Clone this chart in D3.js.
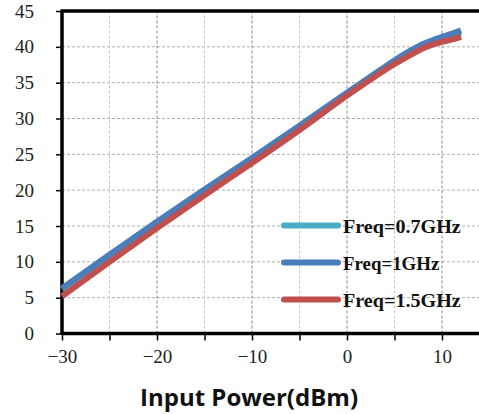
<!DOCTYPE html>
<html>
<head>
<meta charset="utf-8">
<script src="https://cdn.jsdelivr.net/npm/d3@7"></script>
<style>
	body { margin: 0; background: #fff; }
	svg { display: block; }
	.legendText { font-family: 'Liberation Serif', serif; font-weight: bold; font-size: 18px; fill: #111; }
	.axisTitle { font-family: 'Open Sans', sans-serif; font-weight: bold; font-size: 24px; fill: #111; }
</style>
</head>
<body>
<script>
// input power (dBm)
const inputPower = [-30, -25, -20, -15, -10, -5, 0, 3, 5, 7, 8, 9, 10, 11, 12];
// output power per frequency
const freq07 = [6.2, 10.9, 15.5, 20.0, 24.4, 28.9, 33.5, 36.2, 38.0, 39.6, 40.3, 40.8, 41.1, 41.5, 41.9];
const freq1 = [6.3, 11.0, 15.6, 20.1, 24.5, 29.0, 33.6, 36.3, 38.1, 39.7, 40.4, 40.9, 41.4, 41.8, 42.3];
const freq15 = [5.2, 10.0, 14.7, 19.3, 23.8, 28.4, 33.2, 35.9, 37.6, 39.1, 39.8, 40.3, 40.7, 41.0, 41.4];
const seriesNames = ['Freq=0.7GHz', 'Freq=1GHz', 'Freq=1.5GHz'];
const seriesColors = ['#4bacc6', '#4a7ebb', '#c0504d'];
const xTicks = [-30, -20, -10, 0, 10];
const xGrid = [-25, -20, -15, -10, -5, 0, 5, 10];
const yTicks = [0, 5, 10, 15, 20, 25, 30, 35, 40, 45];

const W = 479, H = 414;
const svg = d3.select('body').append('svg').attr('width', W).attr('height', H);

const x = d3.scaleLinear().domain([-30, 14]).range([62, 480]);
const y = d3.scaleLinear().domain([0, 45]).range([333.5, 11]);

// grid
svg.append('g').selectAll('line')
	.data(yTicks.filter(d => d > 0 && d < 45))
	.enter().append('line')
	.attr('x1', x(-30)).attr('x2', W)
	.attr('y1', d => y(d)).attr('y2', d => y(d))
	.style('stroke', '#b0b0b0').style('stroke-width', 1).style('stroke-dasharray', '3,2')

svg.append('g').selectAll('line')
	.data(xGrid)
	.enter().append('line')
	.attr('x1', d => x(d)).attr('x2', d => x(d))
	.attr('y1', y(0)).attr('y2', y(45))
	.style('stroke', d => d % 10 == 0 ? '#888' : '#c8c8c8')
	.style('stroke-width', 1).style('stroke-dasharray', '3,2')

// axes
let xAxis = svg.append('g')
	.attr('transform', `translate(0,${y(0)})`)
	.call(d3.axisBottom(x).tickValues(xGrid.concat([-30])).tickSize(7).tickPadding(9)
		.tickFormat(d => xTicks.includes(d) ? (d < 0 ? '\u2212' + Math.abs(d) : d) : ''))
xAxis.select('.domain').remove();

let yAxis = svg.append('g')
	.attr('transform', `translate(${x(-30)},0)`)
	.call(d3.axisLeft(y).tickValues(yTicks).tickSize(6).tickPadding(22))
yAxis.select('.domain').remove();

svg.selectAll('.tick line').style('stroke', '#000').style('stroke-width', 1.5);
svg.selectAll('.tick text')
	.style('font-family', "'Liberation Serif', 'DejaVu Serif', serif")
	.style('font-size', '19px')
	.style('fill', '#222')

// frame
svg.append('line').attr('x1', x(-30)).attr('x2', W).attr('y1', y(0)).attr('y2', y(0))
	.style('stroke', '#000').style('stroke-width', 3.5)
svg.append('line').attr('x1', x(-30) - 1.5).attr('x2', W).attr('y1', y(45)).attr('y2', y(45))
	.style('stroke', '#000').style('stroke-width', 3.5)
svg.append('line').attr('x1', x(-30)).attr('x2', x(-30)).attr('y1', y(45)).attr('y2', y(0) + 1.5)
	.style('stroke', '#000').style('stroke-width', 3.5)

// curves
const series = [freq07, freq1, freq15];
let line = d3.line()
	.x((d, i) => x(inputPower[i]))
	.y(d => y(d))
	.curve(d3.curveMonotoneX)

svg.append('g').selectAll('path')
	.data(series)
	.enter().append('path')
	.attr('d', line)
	.style('fill', 'none')
	.style('stroke', (d, i) => seriesColors[i])
	.style('stroke-width', 6)
	.style('stroke-linecap', 'butt')

// legend
let legend = svg.append('g').selectAll('g')
	.data(seriesNames)
	.enter().append('g')
	.attr('transform', (d, i) => `translate(284,${225.5 + i * 37})`)

legend.append('line')
	.attr('x1', 0).attr('x2', 54)
	.style('stroke', (d, i) => seriesColors[i])
	.style('stroke-width', 6).style('stroke-linecap', 'round')

legend.append('text')
	.attr('class', 'legendText')
	.attr('x', 59).attr('y', 7)
	.attr('textLength', d => d.length * 10.7)
	.attr('lengthAdjust', 'spacingAndGlyphs')
	.text(d => d)

// axis title
svg.append('text')
	.attr('class', 'axisTitle')
	.attr('x', 249).attr('y', 406)
	.attr('text-anchor', 'middle')
	.text('Input Power(dBm)')
</script>
</body>
</html>
